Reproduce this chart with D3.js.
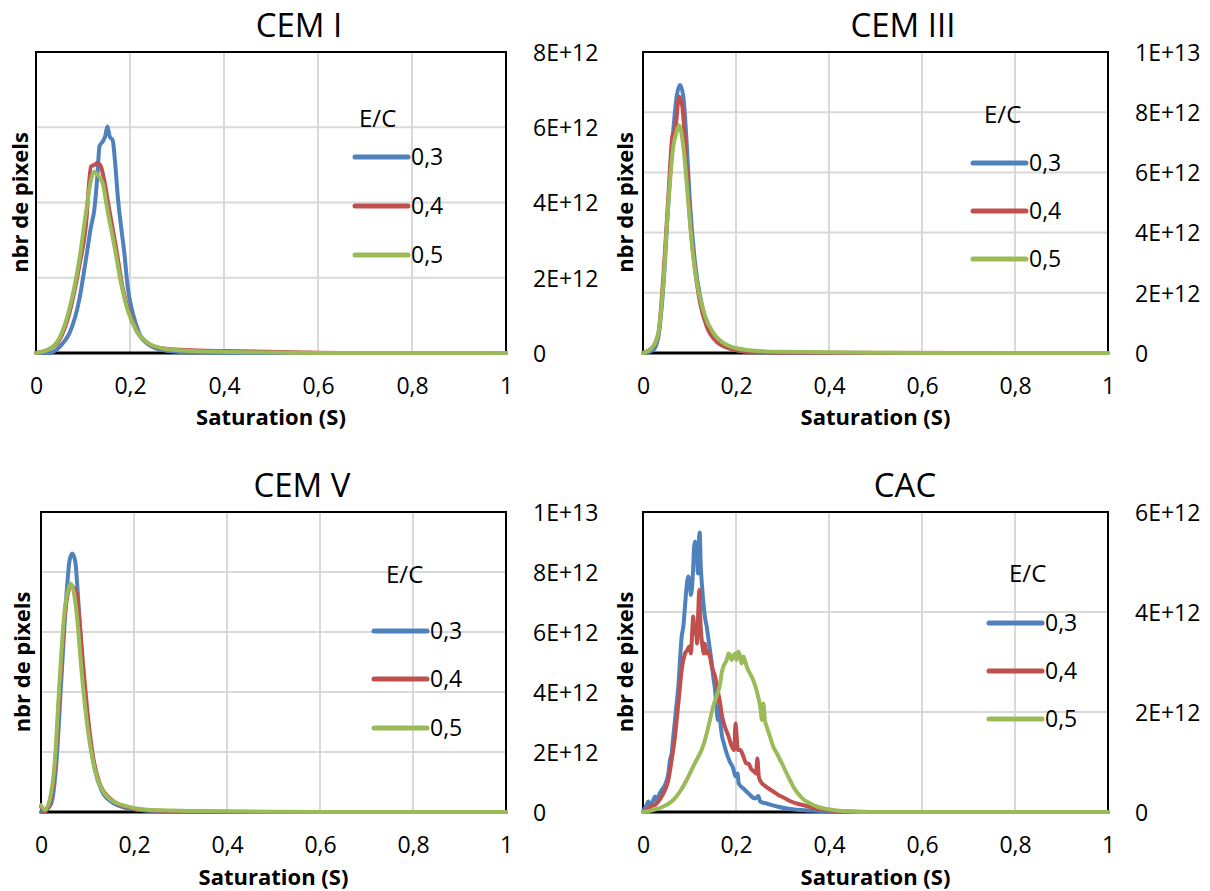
<!DOCTYPE html>
<html><head><meta charset="utf-8">
<script src="https://cdn.jsdelivr.net/npm/d3@7"></script>
<style>body{margin:0;background:#fff}</style>
</head><body><svg id="c" width="1210" height="891"></svg>
<script>
// ---------- shared axis data ----------
const xTicks = [0, 0.2, 0.4, 0.6, 0.8, 1];
const xTickLabels = ["0", "0,2", "0,4", "0,6", "0,8", "1"];
const seriesNames = ["0,3", "0,4", "0,5"];
const legendTitle = "E/C";
const xAxisTitle = "Saturation (S)";
const yAxisTitle = "nbr de pixels";
const colors = ["#4F81BD", "#C0504D", "#9BBB59"];

// values: [saturation, pixels in units of 1E+12]
// ---------- CEM I ----------
const cemI_03 = [[0,0],[0.028,0],[0.043,0.08],[0.057,0.26],[0.071,0.52],[0.092,1.41],[0.106,2.47],[0.117,3.36],[0.124,3.80],[0.131,4.78],[0.135,5.49],[0.142,5.62],[0.147,5.75],[0.152,6.02],[0.157,5.75],[0.163,5.66],[0.169,4.96],[0.174,4.16],[0.181,3.36],[0.188,2.65],[0.195,1.76],[0.206,1.06],[0.220,0.52],[0.241,0.21],[0.270,0.08],[0.320,0.02],[0.45,0],[1,0]];
const cemI_04 = [[0,0],[0.028,0.10],[0.050,0.35],[0.071,1.06],[0.092,2.30],[0.106,3.36],[0.117,4.96],[0.124,5.00],[0.131,5.05],[0.138,4.96],[0.145,4.60],[0.156,3.80],[0.170,2.83],[0.184,1.76],[0.199,1.06],[0.213,0.61],[0.234,0.30],[0.270,0.12],[0.319,0.08],[0.404,0.05],[0.55,0.02],[0.7,0],[1,0]];
const cemI_05 = [[0,0],[0.028,0.10],[0.050,0.40],[0.071,1.17],[0.092,2.47],[0.106,3.71],[0.117,4.60],[0.124,4.82],[0.131,4.74],[0.142,4.51],[0.152,3.80],[0.167,2.83],[0.181,1.85],[0.195,1.14],[0.213,0.61],[0.234,0.30],[0.270,0.12],[0.319,0.06],[0.45,0.02],[0.6,0],[1,0]];

// ---------- CEM III ----------
const cemIII_03 = [[0,0],[0.022,0.10],[0.033,0.54],[0.0437,2.20],[0.0545,4.97],[0.0652,7.41],[0.0724,8.52],[0.0796,8.90],[0.0867,8.52],[0.0939,6.97],[0.101,4.97],[0.112,2.98],[0.123,1.87],[0.137,0.99],[0.158,0.43],[0.187,0.15],[0.230,0.04],[0.35,0],[1,0]];
const cemIII_04 = [[0,0],[0.0186,0.15],[0.033,0.65],[0.0437,2.54],[0.0545,5.19],[0.0631,7.19],[0.0703,7.52],[0.0774,8.52],[0.0846,8.18],[0.0939,6.08],[0.101,4.42],[0.112,2.76],[0.123,1.65],[0.137,0.88],[0.158,0.38],[0.187,0.15],[0.230,0.04],[0.35,0.01],[1,0]];
const cemIII_05 = [[0,0],[0.0186,0.15],[0.033,0.65],[0.0437,2.31],[0.0545,4.97],[0.0652,6.86],[0.0724,7.35],[0.0774,7.57],[0.0867,6.86],[0.0975,4.97],[0.108,3.20],[0.119,2.09],[0.134,1.21],[0.152,0.65],[0.180,0.27],[0.223,0.10],[0.295,0.04],[0.5,0.01],[0.6,0],[1,0]];

// ---------- CEM V ----------
const cemV_03 = [[0,0],[0.0115,0.07],[0.0222,0.29],[0.033,1.62],[0.0437,4.40],[0.0545,7.18],[0.0616,8.40],[0.0674,8.62],[0.0738,8.34],[0.0796,7.18],[0.0867,5.51],[0.0939,3.84],[0.105,2.40],[0.116,1.40],[0.130,0.73],[0.151,0.34],[0.187,0.12],[0.230,0.04],[0.35,0],[1,0]];
const cemV_04 = [[0,0.18],[0.0079,0.01],[0.0186,0.29],[0.0294,1.40],[0.0401,4.07],[0.0509,6.51],[0.0595,7.40],[0.0638,7.57],[0.071,7.46],[0.076,7.34],[0.0832,6.29],[0.0903,4.96],[0.101,3.18],[0.112,1.84],[0.126,0.96],[0.148,0.46],[0.180,0.18],[0.230,0.06],[0.35,0.01],[0.5,0],[1,0]];
const cemV_05 = [[0,0.23],[0.0079,0.07],[0.0186,0.40],[0.0294,1.62],[0.0401,4.40],[0.0509,6.73],[0.0595,7.46],[0.0638,7.62],[0.071,7.29],[0.0781,6.40],[0.0846,5.18],[0.0939,3.62],[0.105,2.29],[0.116,1.40],[0.130,0.79],[0.151,0.40],[0.187,0.18],[0.237,0.07],[0.35,0.03],[0.5,0.01],[0.6,0],[1,0]];

// ---------- CAC ----------
const cac_03 = [[0,0.01],[0.0079,0.14],[0.0115,0.21],[0.0151,0.11],[0.0222,0.24],[0.0258,0.31],[0.0294,0.21],[0.033,0.31],[0.0401,0.44],[0.0473,0.54],[0.0545,0.77],[0.0581,1.04],[0.0616,1.17],[0.0652,1.51],[0.0688,1.84],[0.0724,2.17],[0.076,2.51],[0.0796,3.04],[0.0832,3.51],[0.0867,3.71],[0.0903,4.11],[0.0939,4.51],[0.0975,4.71],[0.101,4.57],[0.103,4.34],[0.107,4.71],[0.110,5.31],[0.112,5.41],[0.114,5.04],[0.116,5.17],[0.118,4.77],[0.120,5.37],[0.122,5.59],[0.124,4.97],[0.127,4.51],[0.130,4.17],[0.133,3.91],[0.137,3.71],[0.140,3.51],[0.144,3.24],[0.148,2.97],[0.151,2.71],[0.155,2.44],[0.158,2.11],[0.161,1.84],[0.164,2.11],[0.166,1.84],[0.169,1.57],[0.174,1.37],[0.180,1.17],[0.187,1.00],[0.194,0.87],[0.199,0.71],[0.203,0.77],[0.206,0.57],[0.216,0.47],[0.227,0.37],[0.241,0.27],[0.248,0.32],[0.252,0.21],[0.266,0.17],[0.288,0.11],[0.316,0.06],[0.359,0.03],[0.409,0.01],[0.5,0],[1,0]];
const cac_04 = [[0,0],[0.0115,0.07],[0.0186,0.12],[0.0258,0.14],[0.033,0.21],[0.0401,0.31],[0.0473,0.44],[0.0545,0.64],[0.0616,1.04],[0.0688,1.51],[0.0724,1.84],[0.0781,2.37],[0.0832,2.84],[0.0903,3.17],[0.0953,3.24],[0.0996,3.31],[0.103,3.17],[0.106,3.64],[0.108,3.91],[0.111,3.57],[0.114,3.71],[0.116,3.37],[0.119,4.04],[0.121,4.44],[0.123,3.91],[0.125,3.57],[0.128,3.31],[0.131,3.17],[0.133,3.37],[0.137,3.17],[0.140,3.21],[0.144,3.11],[0.148,2.91],[0.155,2.71],[0.162,2.37],[0.166,2.17],[0.169,1.97],[0.176,1.71],[0.184,1.51],[0.191,1.31],[0.196,1.24],[0.199,1.77],[0.201,1.57],[0.204,1.24],[0.209,1.24],[0.216,1.11],[0.222,0.97],[0.227,0.97],[0.232,0.87],[0.239,0.81],[0.243,0.77],[0.246,1.07],[0.249,0.71],[0.253,0.61],[0.260,0.54],[0.270,0.47],[0.280,0.41],[0.291,0.34],[0.302,0.29],[0.316,0.22],[0.334,0.16],[0.352,0.12],[0.373,0.07],[0.402,0.03],[0.438,0.01],[0.55,0],[1,0]];
const cac_05 = [[0,0],[0.0222,0.04],[0.0437,0.11],[0.0652,0.24],[0.0796,0.41],[0.0939,0.64],[0.108,0.91],[0.119,1.11],[0.126,1.24],[0.137,1.57],[0.144,1.84],[0.151,2.11],[0.158,2.31],[0.166,2.57],[0.169,2.77],[0.173,2.91],[0.176,2.97],[0.180,3.04],[0.184,3.17],[0.187,3.14],[0.191,3.04],[0.194,3.11],[0.198,3.17],[0.201,3.04],[0.205,3.21],[0.209,3.11],[0.212,2.97],[0.216,3.11],[0.219,3.04],[0.223,2.91],[0.230,2.77],[0.237,2.64],[0.244,2.44],[0.252,2.11],[0.256,1.84],[0.259,2.17],[0.262,1.84],[0.266,1.71],[0.273,1.51],[0.280,1.31],[0.288,1.17],[0.295,1.04],[0.302,0.91],[0.309,0.77],[0.316,0.64],[0.323,0.51],[0.330,0.41],[0.338,0.32],[0.345,0.25],[0.352,0.21],[0.366,0.14],[0.380,0.09],[0.395,0.06],[0.416,0.03],[0.445,0.01],[0.5,0],[1,0]];

// ---------- y ticks per panel ----------
const yTicks_cemI = [0, 2, 4, 6, 8];
const yLabels_cemI = ["0", "2E+12", "4E+12", "6E+12", "8E+12"];
const yTicks_10 = [0, 2, 4, 6, 8, 10];
const yLabels_10 = ["0", "2E+12", "4E+12", "6E+12", "8E+12", "1E+13"];
const yTicks_cac = [0, 2, 4, 6];
const yLabels_cac = ["0", "2E+12", "4E+12", "6E+12"];

const titles = ["CEM I", "CEM III", "CEM V", "CAC"];

const panels = [
  {title: titles[0], series: [cemI_03, cemI_04, cemI_05], yMax: 8, yTicks: yTicks_cemI, yLabels: yLabels_cemI},
  {title: titles[1], series: [cemIII_03, cemIII_04, cemIII_05], yMax: 10, yTicks: yTicks_10, yLabels: yLabels_10},
  {title: titles[2], series: [cemV_03, cemV_04, cemV_05], yMax: 10, yTicks: yTicks_10, yLabels: yLabels_10},
  {title: titles[3], series: [cac_03, cac_04, cac_05], yMax: 6, yTicks: yTicks_cac, yLabels: yLabels_cac}
];

// ---------- layout (positions only) ----------
const layout = [
  {left: 36, right: 506, top: 52, bottom: 353, titleX: 299, titleY: 37, yTitleX: 28, xTitleY: 425, legLine: 355, legTitleX: 359, legTitleY: 127, legY: [157, 206, 255]},
  {left: 643, right: 1108, top: 52, bottom: 353, titleX: 903, titleY: 37, yTitleX: 633, xTitleY: 425, legLine: 973, legTitleX: 984, legTitleY: 123, legY: [163, 211, 259]},
  {left: 41, right: 506, top: 512, bottom: 812, titleX: 302, titleY: 497, yTitleX: 30, xTitleY: 885, legLine: 374, legTitleX: 386, legTitleY: 583, legY: [631, 679, 728]},
  {left: 643, right: 1108, top: 512, bottom: 812, titleX: 905, titleY: 497, yTitleX: 633, xTitleY: 885, legLine: 989, legTitleX: 1009, legTitleY: 582, legY: [623, 671, 719]}
];

const FONT = "'Open Sans', 'Noto Sans', sans-serif";
const svg = d3.select("#c");

panels.forEach((p, k) => {
  const L = layout[k];
  const g = svg.append("g");
  const x = d3.scaleLinear().domain([0, 1]).range([L.left, L.right]);
  const y = d3.scaleLinear().domain([0, p.yMax]).range([L.bottom, L.top]);

  // gridlines
  g.append("g").selectAll("line").data(xTicks.slice(1, -1)).join("line")
    .attr("x1", d => x(d)).attr("x2", d => x(d))
    .attr("y1", L.top).attr("y2", L.bottom)
    .attr("stroke", "#D9D9D9").attr("stroke-width", 2);
  g.append("g").selectAll("line").data(p.yTicks.slice(1, -1)).join("line")
    .attr("x1", L.left).attr("x2", L.right)
    .attr("y1", d => y(d)).attr("y2", d => y(d))
    .attr("stroke", "#D9D9D9").attr("stroke-width", 2);

  // plot border
  g.append("rect").attr("x", L.left).attr("y", L.top)
    .attr("width", L.right - L.left).attr("height", L.bottom - L.top)
    .attr("fill", "none").attr("stroke", "#000").attr("stroke-width", 2);
  g.append("line").attr("x1", L.left).attr("x2", L.right)
    .attr("y1", L.bottom).attr("y2", L.bottom)
    .attr("stroke", "#000").attr("stroke-width", 3);

  // series
  const line = d3.line().x(d => x(d[0])).y(d => y(d[1])).curve(d3.curveMonotoneX);
  p.series.forEach((s, i) => {
    g.append("path").datum(s).attr("d", line)
      .attr("fill", "none").attr("stroke", colors[i])
      .attr("stroke-width", 4).attr("stroke-linejoin", "round").attr("stroke-linecap", "round");
  });

  // x axis labels
  const xa = g.append("g").attr("transform", `translate(0,${L.bottom})`)
    .call(d3.axisBottom(x).tickValues(xTicks).tickFormat((d, i) => xTickLabels[i]).tickSize(0));
  xa.select(".domain").remove();
  xa.attr("font-family", FONT).attr("font-size", 23);
  xa.selectAll("text").attr("dy", null).attr("y", 41).attr("fill", "#000");

  // right y axis labels
  const ya = g.append("g").attr("transform", `translate(${L.right},0)`)
    .call(d3.axisRight(y).tickValues(p.yTicks).tickFormat((d, i) => p.yLabels[i]).tickSize(0).tickPadding(27));
  ya.select(".domain").remove();
  ya.attr("font-family", FONT).attr("font-size", 23);
  ya.selectAll("text").attr("fill", "#000").attr("dy", "0.36em");

  // titles
  g.append("text").attr("x", L.titleX).attr("y", L.titleY)
    .attr("text-anchor", "middle").attr("font-family", FONT).attr("font-size", 33)
    .text(p.title);
  g.append("text").attr("x", (L.left + L.right) / 2).attr("y", L.xTitleY)
    .attr("text-anchor", "middle").attr("font-family", FONT).attr("font-size", 22).attr("font-weight", "bold")
    .text(xAxisTitle);
  g.append("text").attr("transform", `translate(${L.yTitleX},${(L.top + L.bottom) / 2}) rotate(-90)`)
    .attr("text-anchor", "middle").attr("font-family", FONT).attr("font-size", 22).attr("font-weight", "bold")
    .text(yAxisTitle);

  // legend
  g.append("text").attr("x", L.legTitleX).attr("y", L.legTitleY)
    .attr("font-family", FONT).attr("font-size", 24).text(legendTitle);
  seriesNames.forEach((n, i) => {
    g.append("line").attr("x1", L.legLine).attr("x2", L.legLine + 53)
      .attr("y1", L.legY[i]).attr("y2", L.legY[i])
      .attr("stroke", colors[i]).attr("stroke-width", 5).attr("stroke-linecap", "round");
    g.append("text").attr("x", L.legLine + 56).attr("y", L.legY[i]).attr("dy", "0.36em")
      .attr("font-family", FONT).attr("font-size", 23).text(n);
  });
});
</script>
</body></html>
